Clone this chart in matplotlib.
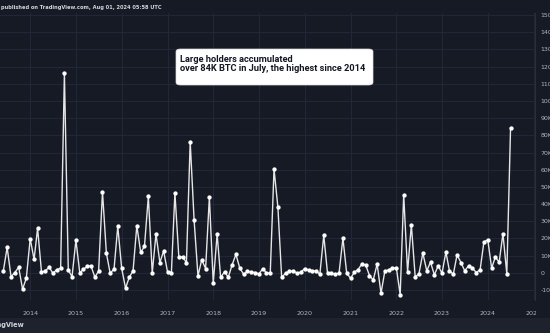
import matplotlib
matplotlib.use("Agg")
import matplotlib.pyplot as plt
from matplotlib.patches import FancyBboxPatch, Rectangle
import pandas as pd

# monthly net change of large-holder balances, thousands of BTC (Jun 2013 - Jul 2024)
start_month = "2013-06-01"
net_flow_k = [
    1.3, 14.8, -2.2, 0.2, 3.3, -9.5, -3.1,
    19.8, 7.8, 25.9, 0.6, 1.0, 3.3, -0.2, 1.8, 2.7, 116.0, 1.6, -2.2,
    19.0, -0.2, 2.1, 3.7, 4.1, -2.5, 1.0, 47.1, 11.5, -0.2, 2.1, 27.0,
    2.7, -8.9, -2.7, 1.2, 27.4, 11.9, 15.4, 44.5, -0.2, 22.6, 6.0, 12.7,
    0.6, 0.2, 46.5, 9.5, 9.2, 6.0, 76.3, 30.9, -1.8, 7.6, 2.5, 44.0,
    -6.0, 22.6, -2.7, 0.6, -2.5, 4.7, 10.7, 2.7, -0.8, 0.8, 0.4, 0.2,
    -0.6, 2.5, 0.0, -0.2, 60.5, 38.1, -2.7, -0.2, 0.8, 1.2, -0.2, 0.4,
    2.5, 1.6, 1.2, 1.2, -0.8, 21.8, -0.2, -0.2, -0.8, -0.2, 20.2, -0.2,
    -3.1, 0.4, 1.8, 5.1, 4.7, -1.6, -4.1, 5.1, -11.9, 0.8, 1.8, 2.7,
    3.1, -12.8, 45.5, 0.4, 28.0, -2.5, -0.4, 11.5, 1.2, 6.2, -1.2, 4.1,
    -0.2, 12.1, 1.2, -0.8, 10.5, 6.0, 1.2, 4.1, 2.7, 0.2, 1.8, 17.9,
    19.3, 2.7, 9.2, 6.2, 22.8, -0.6, 84.5,
]
months = pd.date_range(start_month, periods=len(net_flow_k), freq="MS")
year_ticks = [str(y) for y in range(2014, 2026)]
y_ticks = list(range(-10, 151, 10))
y_labels = ["0" if v == 0 else f"{v}K" for v in y_ticks]

header = "published on TradingView.com, Aug 01, 2024 05:58 UTC"
note = "Large holders accumulated\nover 84K BTC in July, the highest since 2014"

bg = "#161a25"
footer_bg = "#1e222d"
grid_c = "#23273a"
text_c = "#b2b5be"

W, H = 550, 333
fig = plt.figure(figsize=(W / 100, H / 100), dpi=100)
fig.patch.set_facecolor(bg)

# plot area in pixels: left 0, right 535, top 13, bottom 300
ax = fig.add_axes([0, (H - 300) / H, 535 / W, (300 - 13) / H])
ax.set_facecolor(bg)

ax.plot(months, net_flow_k, color="#e6e6e6", lw=1.0,
        marker="o", ms=2.1, mfc="white", mec="white", zorder=3)

ax.set_ylim(-15.8, 151.2)
ax.set_xlim(pd.Timestamp("2013-05-05"), pd.Timestamp("2025-01-12"))

ax.yaxis.tick_right()
ax.set_yticks(y_ticks)
ax.set_yticklabels(y_labels)
ax.set_xticks([pd.Timestamp(f"{y}-01-01") for y in year_ticks])
ax.set_xticklabels(year_ticks)
ax.tick_params(axis="y", length=0, pad=4, labelsize=4.5, labelcolor=text_c)
ax.tick_params(axis="x", length=0, pad=8, labelsize=4.6, labelcolor=text_c)

ax.grid(True, color=grid_c, lw=0.7)
ax.set_axisbelow(True)
for side in ["top", "left", "bottom"]:
    ax.spines[side].set_visible(False)
ax.spines["right"].set_color("#2a2e39")
ax.spines["right"].set_linewidth(0.8)

# footer band and clipping of the last year label under the price scale
fig.patches.append(Rectangle((0, 0), 1, 15 / H, transform=fig.transFigure,
                             facecolor=footer_bg, edgecolor="none", zorder=-1))
fig.patches.append(Rectangle((536 / W, 15 / H), 14 / W, 18 / H,
                             transform=fig.transFigure,
                             facecolor=bg, edgecolor="none", zorder=5))

fig.text(1 / W, 1 - 7 / H, header, color="#d1d4dc", fontsize=3.7,
         fontweight="bold", va="center", ha="left")
fig.text(25 / W, 7.5 / H, "TradingView", color="#d1d4dc", fontsize=4.8,
         fontweight="bold", va="center", ha="right")

# annotation box
box = FancyBboxPatch((176 / W, 1 - 85 / H), 197 / W, 36 / H,
                     boxstyle="round,pad=0,rounding_size=0.008",
                     transform=fig.transFigure, facecolor="white",
                     edgecolor="#dddddd", lw=0.5, zorder=6)
fig.patches.append(box)
fig.text(180 / W, 1 - 64 / H, note, color="#131722", fontsize=6.65,
         fontweight="bold", family="Roboto", va="center", ha="left",
         linespacing=1.05, zorder=7)

fig.savefig("out.png", dpi=100, facecolor=fig.get_facecolor())
